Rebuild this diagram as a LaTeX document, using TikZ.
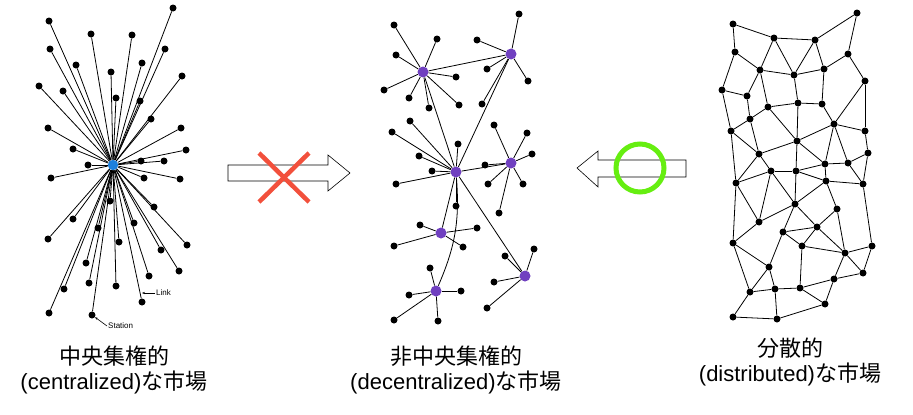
\documentclass[tikz,border=0pt]{standalone}
\usepackage{fontspec}
\setmainfont{Liberation Sans}
\newfontfamily\jp{Noto Sans CJK JP}
\usepackage{tikz}
\usetikzlibrary{arrows.meta}
\definecolor{hubblue}{RGB}{30,128,220}
\definecolor{hubpurple}{RGB}{112,64,192}
\definecolor{crossred}{RGB}{242,80,60}
\definecolor{ringgreen}{RGB}{102,238,17}
\begin{document}
\begin{tikzpicture}[
    x=1pt, y=-1pt, >=Stealth,
    station/.style={circle, fill=black, inner sep=0pt, minimum size=7pt},
    hub/.style={circle, inner sep=0pt, minimum size=11pt},
    link/.style={line width=0.8pt},
    tag/.style={font=\fontsize{8}{9}\selectfont, inner sep=1pt},
    caption/.style={align=center, font=\fontsize{22}{25}\selectfont},
    bigarrow/.style={draw=black, line width=0.6pt, fill=white}
]
\useasboundingbox (0,0) rectangle (913,415);
% centralized
\node[hub, fill=hubblue, minimum size=10.5pt] (hub) at (113,165) {};
\foreach \x/\y [count=\i] in {49/21, 173/8, 91/34, 132/35, 50/49, 165/49, 76/65,
    142/63, 111/72, 182/76, 39/86, 63/91, 116/98, 140/101, 151/119, 48/128,
    181/128, 73/149, 186/150, 164/161, 141/161, 88/165, 51/178, 144/178, 180/179,
    110/201, 154/207, 73/219, 98/228, 134/223, 48/239, 119/242, 187/245, 161/250,
    86/263, 179/271, 149/276, 89/283, 116/286, 64/289, 142/302, 49/313, 92/315} {
    \node[station] (c\i) at (\x,\y) {};
    \draw[link] (hub) -- (c\i);
}
\coordinate (linkpt) at (142,293);
\node[tag, anchor=west] (linktag) at (155,293) {Link};
\draw[-{Stealth[length=3pt]}, line width=0.6pt] (linktag) -- (linkpt);
\node[tag, anchor=west] (stntag) at (107,326) {Station};
\draw[-{Stealth[length=3pt]}, line width=0.6pt] (stntag.west) -- (c43);
% decentralized
\foreach \name/\x/\y in {d1/423/72, d2/511/54, d3/456/172, d4/511/163,
    d5/441/233, d6/436/291, d7/525/276}
    \node[hub, fill=hubpurple] (\name) at (\x,\y) {};
\foreach \h/\x/\y [count=\i] in {d1/394/25, d1/437/39, d1/396/55, d1/384/90,
    d1/409/98, d1/429/108, d1/456/77, d1/459/105,
    d2/519/14, d2/477/40, d2/487/69, d2/528/81, d2/482/104,
    d3/410/121, d3/392/132, d3/458/144, d3/419/156, d3/432/171, d3/396/184, d3/456/206,
    d4/494/125, d4/527/133, d4/532/154, d4/485/165, d4/488/184, d4/523/184, d4/499/213,
    d5/420/225, d5/477/228, d5/394/246, d5/463/247,
    d6/430/268, d6/461/291, d6/409/295, d6/394/320, d6/438/321,
    d7/534/249, d7/505/256, d7/494/282, d7/487/308} {
    \node[station] (e\i) at (\x,\y) {};
    \draw[link] (\h) -- (e\i);
}
\draw[link] (d1) -- (d2) (d1) -- (d3) (d2) -- (d3) (d3) -- (d4) (d3) -- (d5) (d3) -- (d7);
\draw[link] (d3) to[bend left=14] (d6);
% distributed
\foreach \x/\y [count=\i] in {857/13, 733/24, 774/38, 815/40, 735/52, 848/54,
    760/70, 794/75, 824/69, 865/81, 722/90, 747/96, 768/107, 798/103, 822/104,
    750/119, 834/124, 731/131, 865/131, 797/141, 759/154, 868/153, 825/164,
    848/163, 771/171, 796/171, 736/183, 826/181, 863/184, 795/204, 837/209,
    759/222, 817/227, 783/232, 733/243, 872/246, 802/246, 845/253, 769/267,
    863/273, 834/279, 750/292, 775/289, 800/288, 825/304, 733/317, 777/319}
    \node[station] (n\i) at (\x,\y) {};
\foreach \a/\b in {2/3, 3/4, 4/1, 1/6, 6/10, 2/5, 5/7, 3/7, 3/8, 4/8, 4/9, 7/8,
    8/9, 9/6, 5/11, 11/12, 7/12, 7/13, 8/14, 13/14, 14/15, 9/15, 10/17, 15/17,
    10/19, 12/16, 16/13, 16/18, 11/18, 16/21, 18/21, 13/20, 14/20, 20/17, 21/20,
    20/23, 17/19, 17/23, 17/24, 19/22, 23/24, 24/22, 22/29, 24/29, 21/25, 21/27,
    18/27, 25/26, 26/23, 20/26, 28/29, 27/25, 23/28, 26/28, 26/30, 25/30, 25/32,
    27/32, 27/35, 28/30, 28/31, 29/36, 30/32, 30/34, 30/33, 31/33, 31/38, 32/35,
    34/33, 34/37, 33/37, 33/38, 37/38, 38/36, 38/40, 38/41, 40/41, 35/39, 35/42,
    34/39, 39/42, 39/43, 37/44, 42/43, 43/44, 44/41, 36/40, 42/46, 46/47, 47/43,
    47/45, 44/45, 45/41}
    \draw[link] (n\a) -- (n\b);
% arrows
\draw[bigarrow] (228,165) -- (328,165) -- (328,155) -- (350,173) -- (328,191)
    -- (328,181) -- (228,181) -- cycle;
\draw[crossred, line width=4.5pt] (259,153) -- (309,202) (309,153) -- (259,202);
\draw[bigarrow] (577,168) -- (598,151) -- (598,160) -- (686,160) -- (686,177)
    -- (598,177) -- (598,187) -- cycle;
\draw[ringgreen, line width=5pt] (640,168) circle[radius=24];
% captions
\node[caption] (cap1) at (114,370) {{\jp 中央集権的}\\(centralized){\jp な市場}};
\node[caption] (cap2) at (456,370) {{\jp 非中央集権的}\\(decentralized){\jp な市場}};
\node[caption] (cap3) at (790,362) {{\jp 分散的}\\(distributed){\jp な市場}};
\end{tikzpicture}
\end{document}
